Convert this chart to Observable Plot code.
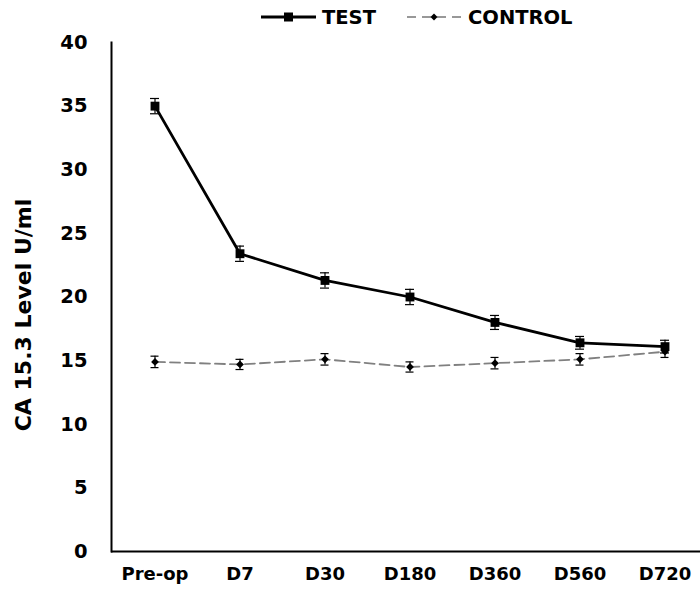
<!DOCTYPE html>
<html><head><meta charset="utf-8">
<script src="https://cdn.jsdelivr.net/npm/d3@7"></script>
<script src="https://cdn.jsdelivr.net/npm/@observablehq/plot@0.6"></script>
<style>
body{margin:0;background:#fff;font-family:"DejaVu Sans",sans-serif;}
#wrap{position:relative;width:700px;height:605px;}
#legend{height:25px;position:relative;font-weight:bold;font-size:19.5px;color:#000;z-index:2;}
#legend .item{position:absolute;top:7px;display:flex;align-items:center;height:20px;}
#legend svg{display:block;margin-right:6px;}
#ytitle{position:absolute;left:24px;top:315px;transform:translate(-50%,-50%) rotate(-90deg);white-space:nowrap;font-weight:bold;font-size:22px;line-height:1;color:#000;}
</style></head><body>
<div id="wrap">
<div id="legend"></div>
<div id="chart"></div>
<div id="ytitle"></div>
</div>
<script>
const categories = ["Pre-op","D7","D30","D180","D360","D560","D720"];
const testValues = [35.0, 23.4, 21.3, 20.0, 18.0, 16.4, 16.1];
const testErrors = [0.6, 0.6, 0.6, 0.6, 0.55, 0.5, 0.5];
const controlValues = [14.9, 14.7, 15.1, 14.5, 14.8, 15.1, 15.7];
const controlErrors = [0.45, 0.4, 0.45, 0.4, 0.45, 0.45, 0.45];
const yTicks = [0, 5, 10, 15, 20, 25, 30, 35, 40];
const seriesNames = ["TEST", "CONTROL"];
const yTitle = "CA 15.3 Level U/ml";

const test = categories.map((c, i) => ({cat: c, v: testValues[i], e: testErrors[i]}));
const control = categories.map((c, i) => ({cat: c, v: controlValues[i], e: controlErrors[i]}));

document.getElementById("ytitle").textContent = yTitle;

const legend = document.getElementById("legend");
legend.innerHTML = `
<div class="item" style="left:261px"><svg width="55" height="14"><line x1="0" y1="7" x2="55" y2="7" stroke="#000" stroke-width="3"/><rect x="23" y="2.5" width="9" height="9" fill="#000"/></svg><span>${seriesNames[0]}</span></div>
<div class="item" style="left:407px"><svg width="55" height="14"><line x1="0" y1="7" x2="55" y2="7" stroke="#777" stroke-width="1.6" stroke-dasharray="9,6"/><path d="M27,3.5L30.5,7L27,10.5L23.5,7Z" fill="#000"/></svg><span>${seriesNames[1]}</span></div>`;

const chart = Plot.plot({
  width: 700,
  height: 580,
  marginTop: 17,
  marginBottom: 54,
  marginLeft: 111,
  marginRight: 0,
  style: {fontFamily: "DejaVu Sans, sans-serif", background: "transparent", color: "#000"},
  x: {type: "band", domain: categories, range: [110.5, 708.5], padding: 0},
  y: {domain: [0, 40]},
  marks: [
    Plot.axisY({ticks: yTicks, tickSize: 0, tickPadding: 24, fontSize: 19.5, fontWeight: "bold", label: null}),
    Plot.axisX({tickSize: 0, tickPadding: 16, fontSize: 18, fontWeight: "bold", label: null}),
    Plot.frame({anchor: "left", stroke: "#000", strokeWidth: 2}),
    Plot.ruleY([0], {stroke: "#000", strokeWidth: 2}),
    // control
    Plot.line(control, {x: "cat", y: "v", stroke: "#808080", strokeWidth: 1.8, strokeDasharray: "10,5"}),
    Plot.ruleX(control, {x: "cat", y1: d => d.v - d.e, y2: d => d.v + d.e, stroke: "#000", strokeWidth: 1.2}),
    Plot.tickY(control, {x: "cat", y: d => d.v - d.e, insetLeft: 38.5, insetRight: 38.5, stroke: "#000", strokeWidth: 1.2}),
    Plot.tickY(control, {x: "cat", y: d => d.v + d.e, insetLeft: 38.5, insetRight: 38.5, stroke: "#000", strokeWidth: 1.2}),
    Plot.dot(control, {x: "cat", y: "v", symbol: "diamond2", r: 3.5, fill: "#000", stroke: "none"}),
    // test
    Plot.line(test, {x: "cat", y: "v", stroke: "#000", strokeWidth: 2.8}),
    Plot.ruleX(test, {x: "cat", y1: d => d.v - d.e, y2: d => d.v + d.e, stroke: "#000", strokeWidth: 1.2}),
    Plot.tickY(test, {x: "cat", y: d => d.v - d.e, insetLeft: 38, insetRight: 38, stroke: "#000", strokeWidth: 1.2}),
    Plot.tickY(test, {x: "cat", y: d => d.v + d.e, insetLeft: 38, insetRight: 38, stroke: "#000", strokeWidth: 1.2}),
    Plot.dot(test, {x: "cat", y: "v", symbol: "square", r: 5, fill: "#000", stroke: "none"})
  ]
});
document.getElementById("chart").appendChild(chart);
</script>
</body></html>
